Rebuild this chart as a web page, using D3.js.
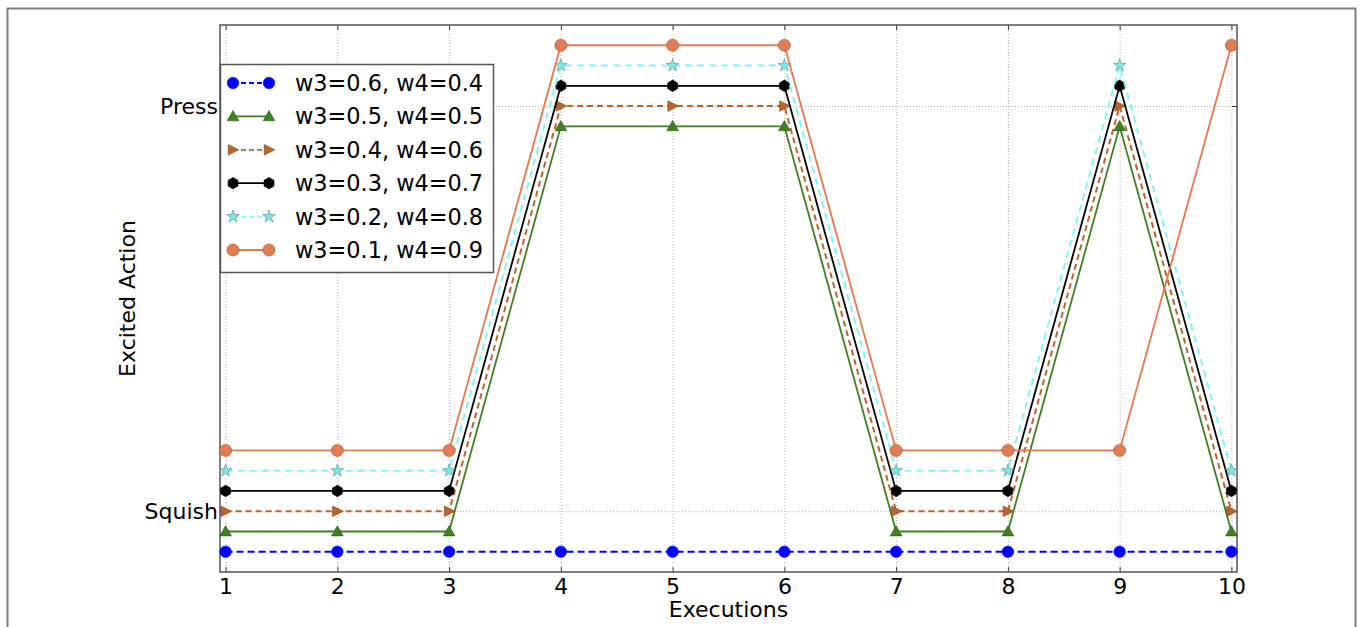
<!DOCTYPE html>
<html>
<head>
<meta charset="utf-8">
<script src="https://cdn.jsdelivr.net/npm/d3@7"></script>
<style>
  body { margin: 0; background: #fff; }
  svg { display: block; font-family: "DejaVu Sans", sans-serif; }
  .grid line { stroke: #b0b0b0; stroke-dasharray: 1,2; stroke-width: 1; }
  .grid path { display: none; }
</style>
</head>
<body>
<svg width="1360" height="627"></svg>
<script>
// Executions on the x axis
var executions = [1, 2, 3, 4, 5, 6, 7, 8, 9, 10];

// Action categories (0 = Squish, 1 = Press)
var actionNames = ['Squish', 'Press'];

// Legend labels
var seriesNames = [
  'w3=0.6, w4=0.4',
  'w3=0.5, w4=0.5',
  'w3=0.4, w4=0.6',
  'w3=0.3, w4=0.7',
  'w3=0.2, w4=0.8',
  'w3=0.1, w4=0.9'
];

// Small vertical shift used to separate the overlapping series
var seriesOffset = [-0.1, -0.05, 0, 0.05, 0.1, 0.15];

// Excited action per execution
var actW06 = [0, 0, 0, 0, 0, 0, 0, 0, 0, 0];
var actW05 = [0, 0, 0, 1, 1, 1, 0, 0, 1, 0];
var actW04 = [0, 0, 0, 1, 1, 1, 0, 0, 1, 0];
var actW03 = [0, 0, 0, 1, 1, 1, 0, 0, 1, 0];
var actW02 = [0, 0, 0, 1, 1, 1, 0, 0, 1, 0];
var actW01 = [0, 0, 0, 1, 1, 1, 0, 0, 0, 1];

var seriesValues = [actW06, actW05, actW04, actW03, actW02, actW01];

// Styles
var styles = [
  {color: '#0000ff', fill: '#0000ff', edge: '#0000ff', dash: '7,4', marker: 'circle', size: 105},
  {color: '#3f7f1f', fill: '#3f7f1f', edge: '#2a5a12', dash: null, marker: 'triUp', size: 60},
  {color: '#c0632b', fill: '#c0632b', edge: '#7a3c16', dash: '6,4', marker: 'triRight', size: 110},
  {color: '#000000', fill: '#000000', edge: '#000000', dash: null, marker: 'hex', size: 85},
  {color: '#7ff7f7', fill: '#80e6e6', edge: '#4f8f8f', dash: '7,5', marker: 'star', size: 50},
  {color: '#e8774a', fill: '#e27c52', edge: '#a0522d', dash: null, marker: 'circle', size: 115}
];

var svg = d3.select('svg');

// Outer frame
svg.append('rect')
  .attr('x', 7.5).attr('y', 8.5)
  .attr('width', 1348).attr('height', 640)
  .attr('fill', 'none').attr('stroke', '#808080').attr('stroke-width', 2);

var pLeft = 220, pRight = 1237, pTop = 25, pBottom = 572;

var x = d3.scaleLinear().domain([0.95, 10.05]).range([pLeft, pRight]);
var y = d3.scaleLinear().domain([-0.15, 1.2]).range([pBottom, pTop]);

// Grid lines
svg.append('g').attr('class', 'grid')
  .attr('transform', 'translate(0,' + pBottom + ')')
  .call(d3.axisBottom(x).tickValues(executions).tickSize(-(pBottom - pTop)).tickFormat(''));
svg.append('g').attr('class', 'grid')
  .attr('transform', 'translate(' + pLeft + ',0)')
  .call(d3.axisLeft(y).tickValues([0, 1]).tickSize(-(pRight - pLeft)).tickFormat(''));

// Axes with labels (ticks pointing inward)
var xAxis = svg.append('g')
  .attr('transform', 'translate(0,' + pBottom + ')')
  .call(d3.axisBottom(x).tickValues(executions).tickSizeInner(-5).tickSizeOuter(0).tickPadding(6));
var yAxis = svg.append('g')
  .attr('transform', 'translate(' + pLeft + ',0)')
  .call(d3.axisLeft(y).tickValues([0, 1]).tickFormat(function(d) { return actionNames[d]; })
    .tickSizeInner(-5).tickSizeOuter(0).tickPadding(2));
svg.append('g')
  .attr('transform', 'translate(0,' + pTop + ')')
  .call(d3.axisTop(x).tickValues(executions).tickSizeInner(-5).tickSizeOuter(0).tickFormat(''));
svg.append('g')
  .attr('transform', 'translate(' + pRight + ',0)')
  .call(d3.axisRight(y).tickValues([0, 1]).tickSizeInner(-5).tickSizeOuter(0).tickFormat(''));
svg.selectAll('.domain').remove();
svg.selectAll('.tick line').filter(function() { return !this.closest('.grid'); })
  .attr('stroke', '#333');
[xAxis, yAxis].forEach(function(ax) {
  ax.attr('font-family', null).attr('font-size', null);
  ax.selectAll('text').attr('font-size', 22).attr('fill', '#000');
});

// Plot frame
svg.append('rect')
  .attr('x', pLeft).attr('y', pTop)
  .attr('width', pRight - pLeft).attr('height', pBottom - pTop)
  .attr('fill', 'none').attr('stroke', '#555').attr('stroke-width', 1.5);

// Axis titles
svg.append('text')
  .attr('x', (pLeft + pRight) / 2).attr('y', 617)
  .attr('text-anchor', 'middle').attr('font-size', 22)
  .text('Executions');
svg.append('text')
  .attr('transform', 'translate(135,' + ((pTop + pBottom) / 2) + ') rotate(-90)')
  .attr('text-anchor', 'middle').attr('font-size', 22)
  .text('Excited Action');

// Marker symbols
var triRightType = {draw: function(ctx, s) {
  var a = Math.sqrt(s) / 2;
  ctx.moveTo(a * 1.1, 0);
  ctx.lineTo(-a * 0.9, -a);
  ctx.lineTo(-a * 0.9, a);
  ctx.closePath();
}};
var hexType = {draw: function(ctx, s) {
  var r = Math.sqrt(s / (3 * Math.sqrt(3) / 2));
  for (var i = 0; i < 6; i++) {
    var a = Math.PI / 6 + i * Math.PI / 3;
    if (i === 0) ctx.moveTo(r * Math.cos(a), r * Math.sin(a));
    else ctx.lineTo(r * Math.cos(a), r * Math.sin(a));
  }
  ctx.closePath();
}};
function symbolFor(st) {
  var type = d3.symbolCircle;
  if (st.marker === 'triUp') type = d3.symbolTriangle;
  if (st.marker === 'triRight') type = triRightType;
  if (st.marker === 'hex') type = hexType;
  if (st.marker === 'star') type = d3.symbolStar;
  return d3.symbol().type(type).size(st.size)();
}
function symbolOffset(st) {
  return st.marker === 'triUp' ? 1 : 0;
}

var line = d3.line()
  .x(function(d) { return x(d.x); })
  .y(function(d) { return y(d.y); });

seriesValues.forEach(function(vals, i) {
  var st = styles[i];
  var pts = vals.map(function(v, j) { return {x: executions[j], y: v + seriesOffset[i]}; });
  var g = svg.append('g');
  g.append('path')
    .attr('d', line(pts))
    .attr('fill', 'none')
    .attr('stroke', st.color)
    .attr('stroke-width', st.dash ? 2 : 1.8)
    .attr('stroke-dasharray', st.dash);
  g.selectAll('path.m').data(pts).enter().append('path')
    .attr('class', 'm')
    .attr('d', symbolFor(st))
    .attr('transform', function(d) { return 'translate(' + x(d.x) + ',' + (y(d.y) + symbolOffset(st)) + ')'; })
    .attr('fill', st.fill)
    .attr('stroke', st.edge)
    .attr('stroke-width', 0.6);
});

// Legend
var lg = svg.append('g');
lg.append('rect')
  .attr('x', 220.5).attr('y', 64.5)
  .attr('width', 273).attr('height', 208)
  .attr('fill', '#fff').attr('stroke', '#555').attr('stroke-width', 1.5);
seriesNames.forEach(function(name, i) {
  var st = styles[i];
  var ly = 83 + i * 33.4;
  lg.append('line')
    .attr('x1', 233).attr('x2', 269).attr('y1', ly).attr('y2', ly)
    .attr('stroke', st.color).attr('stroke-width', 1.8)
    .attr('stroke-dasharray', st.dash ? '5,3' : null);
  [233, 269].forEach(function(mx) {
    lg.append('path')
      .attr('d', symbolFor(st))
      .attr('transform', 'translate(' + mx + ',' + (ly + symbolOffset(st)) + ')')
      .attr('fill', st.fill).attr('stroke', st.edge).attr('stroke-width', 0.6);
  });
  lg.append('text')
    .attr('x', 295).attr('y', ly).attr('dy', '0.36em')
    .attr('font-size', 22.4)
    .text(name);
});
</script>
</body>
</html>
